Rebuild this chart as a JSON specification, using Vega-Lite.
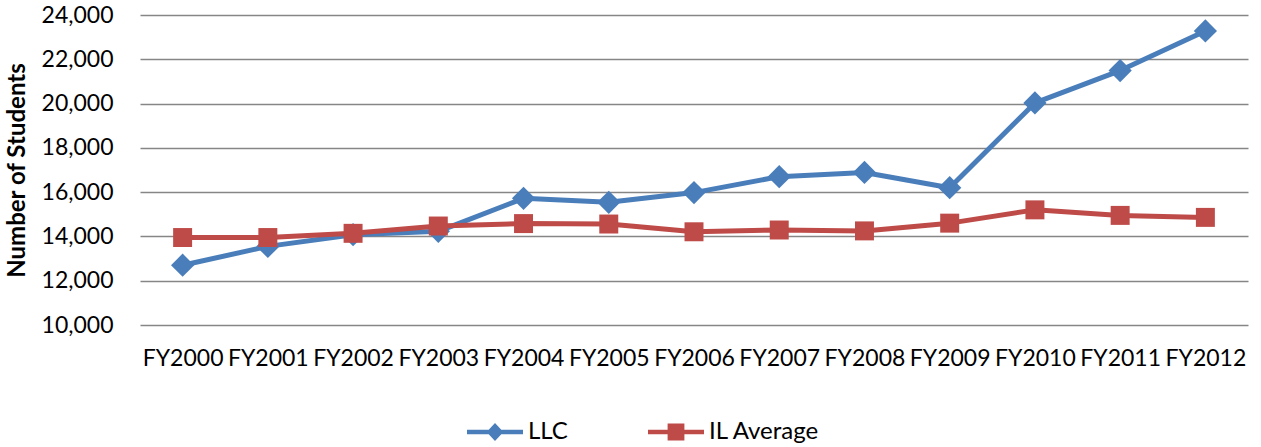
{
  "$schema": "https://vega.github.io/schema/vega-lite/v6.json",
  "width": 1108,
  "height": 310,
  "autosize": {"type": "none"},
  "padding": {"left": 140, "top": 15, "right": 13, "bottom": 122},
  "background": "white",
  "config": {
    "font": "Lato",
    "view": {"stroke": null},
    "axis": {"labelColor": "#000000", "titleColor": "#000000"},
    "legend": {"labelColor": "#000000"}
  },
  "data": {
    "values": [
      {"year": "FY2000", "series": "LLC", "value": 12700},
      {"year": "FY2001", "series": "LLC", "value": 13550},
      {"year": "FY2002", "series": "LLC", "value": 14080},
      {"year": "FY2003", "series": "LLC", "value": 14230},
      {"year": "FY2004", "series": "LLC", "value": 15720},
      {"year": "FY2005", "series": "LLC", "value": 15540},
      {"year": "FY2006", "series": "LLC", "value": 15980},
      {"year": "FY2007", "series": "LLC", "value": 16700},
      {"year": "FY2008", "series": "LLC", "value": 16890},
      {"year": "FY2009", "series": "LLC", "value": 16200},
      {"year": "FY2010", "series": "LLC", "value": 20030},
      {"year": "FY2011", "series": "LLC", "value": 21490},
      {"year": "FY2012", "series": "LLC", "value": 23280},
      {"year": "FY2000", "series": "IL Average", "value": 13950},
      {"year": "FY2001", "series": "IL Average", "value": 13950},
      {"year": "FY2002", "series": "IL Average", "value": 14140},
      {"year": "FY2003", "series": "IL Average", "value": 14470},
      {"year": "FY2004", "series": "IL Average", "value": 14580},
      {"year": "FY2005", "series": "IL Average", "value": 14560},
      {"year": "FY2006", "series": "IL Average", "value": 14210},
      {"year": "FY2007", "series": "IL Average", "value": 14290},
      {"year": "FY2008", "series": "IL Average", "value": 14250},
      {"year": "FY2009", "series": "IL Average", "value": 14600},
      {"year": "FY2010", "series": "IL Average", "value": 15200},
      {"year": "FY2011", "series": "IL Average", "value": 14950},
      {"year": "FY2012", "series": "IL Average", "value": 14860}
    ]
  },
  "layer": [
    {
      "transform": [{"filter": "datum.series === 'LLC'"}],
      "mark": {"type": "line", "strokeWidth": 5, "strokeJoin": "round", "strokeCap": "round", "color": "#4A7EBB"},
      "encoding": {
        "x": {
          "field": "year",
          "type": "ordinal",
          "sort": null,
          "scale": {"type": "point", "padding": 0.5},
          "axis": {
            "title": null,
            "labelAngle": 0,
            "ticks": false,
            "domain": false,
            "grid": false,
            "labelFontSize": 23,
            "labelPadding": 22
          }
        },
        "y": {
          "field": "value",
          "type": "quantitative",
          "scale": {"domain": [10000, 24000], "nice": false, "zero": false},
          "axis": {
            "values": [10000, 12000, 14000, 16000, 18000, 20000, 22000, 24000],
            "format": ",.0f",
            "title": "Number of Students",
            "titleFontSize": 24,
            "titleFontWeight": "bold",
            "titlePadding": 12,
            "labelFontSize": 23,
            "labelPadding": 27,
            "ticks": false,
            "domain": false,
            "gridColor": "#868686",
            "gridWidth": 1.5
          }
        }
      }
    },
    {
      "transform": [{"filter": "datum.series === 'LLC'"}],
      "mark": {"type": "point", "shape": "diamond", "filled": true, "opacity": 1, "size": 540, "color": "#4A7EBB"},
      "encoding": {
        "x": {"field": "year", "type": "ordinal", "sort": null},
        "y": {"field": "value", "type": "quantitative"}
      }
    },
    {
      "transform": [{"filter": "datum.series === 'IL Average'"}],
      "mark": {"type": "line", "strokeWidth": 5, "strokeJoin": "round", "strokeCap": "round", "color": "#BE4B48"},
      "encoding": {
        "x": {"field": "year", "type": "ordinal", "sort": null},
        "y": {"field": "value", "type": "quantitative"}
      }
    },
    {
      "transform": [{"filter": "datum.series === 'IL Average'"}],
      "mark": {"type": "point", "shape": "square", "filled": true, "opacity": 1, "size": 360, "color": "#BE4B48"},
      "encoding": {
        "x": {"field": "year", "type": "ordinal", "sort": null},
        "y": {"field": "value", "type": "quantitative"}
      }
    },
    {
      "mark": {"type": "point", "filled": true, "opacity": 0},
      "encoding": {
        "x": {"field": "year", "type": "ordinal", "sort": null},
        "y": {"field": "value", "type": "quantitative"},
        "color": {
          "field": "series",
          "type": "nominal",
          "sort": ["LLC", "IL Average"],
          "scale": {"domain": ["LLC", "IL Average"], "range": ["#4A7EBB", "#BE4B48"]},
          "legend": {
            "title": null,
            "orient": "none",
            "legendX": 327,
            "legendY": 389,
            "direction": "horizontal",
            "padding": 0,
            "columnPadding": 80,
            "symbolSize": 3136,
            "symbolStrokeWidth": 0,
            "symbolOpacity": 1,
            "labelFontSize": 24,
            "labelOffset": 5
          }
        },
        "shape": {
          "field": "series",
          "type": "nominal",
          "sort": ["LLC", "IL Average"],
          "scale": {
            "domain": ["LLC", "IL Average"],
            "range": [
              "M-1,-0.08H1V0.08H-1Z M0,-0.32L0.3,0L0,0.32L-0.3,0Z",
              "M-1,-0.08H1V0.08H-1Z M-0.3,-0.3H0.3V0.3H-0.3Z"
            ]
          },
          "legend": {
            "title": null,
            "orient": "none",
            "legendX": 327,
            "legendY": 389,
            "direction": "horizontal",
            "padding": 0,
            "columnPadding": 80,
            "symbolSize": 3136,
            "symbolStrokeWidth": 0,
            "symbolOpacity": 1,
            "labelFontSize": 24,
            "labelOffset": 5
          }
        }
      }
    }
  ]
}
